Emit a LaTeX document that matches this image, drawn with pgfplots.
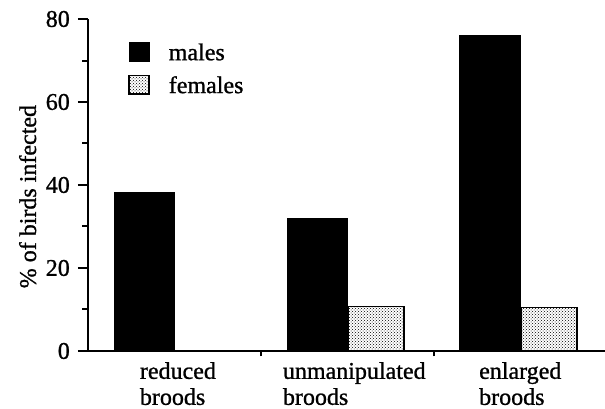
\documentclass[border=0pt]{standalone}
\usepackage{fontspec}
\setmainfont{Liberation Serif}[FakeBold=1.0]
\usepackage{pgfplots}
\pgfplotsset{compat=1.18}
\usetikzlibrary{patterns}
\begin{document}
\fontsize{24}{26}\selectfont
\begin{tikzpicture}
\begin{axis}[
  name=ax,
  scale only axis,
  clip=false,
  width=517pt, height=332pt,
  xmin=-0.5, xmax=2.49, ymin=0, ymax=80,
  axis x line*=bottom, axis y line*=left,
  axis line style={-, line width=2pt, black},
  xtick pos=bottom, ytick pos=left,
  /pgf/number format/assume math mode=true,
  every tick label/.append style={font=\fontsize{24}{26}\selectfont},
  tick align=outside,
  major tick length=5.5pt,
  tick style={black, line width=2pt},
  ytick={10,30,50,70},
  yticklabels={},
  extra y ticks={0,20,40,60,80},
  extra y tick style={major tick length=10pt},
  xtick={0.5,1.5},
  xticklabels={},
  extra x ticks={0.02,1.04,2.0},
  extra x tick labels={reduced\\broods, unmanipulated\\broods, enlarged\\broods},
  extra x tick style={major tick length=0pt},
  xticklabel style={align=left, anchor=north, yshift=-3pt},
  ylabel={\% of birds infected},
  ylabel style={at={(axis description cs:-0.1006,0.465)}, anchor=base, font=\fontsize{24}{26}\selectfont},
  legend style={at={(axis description cs:0.0774,0.9307)}, anchor=north west, draw=none, fill=none,
    inner sep=0pt, nodes={inner sep=0pt, anchor=base west}, column sep=19pt, row sep=11pt,
    font=\fontsize{24}{26}\selectfont},
  legend cell align=left,
  legend image code/.code={\draw[#1] (0pt,-1pt) rectangle (20pt,17.5pt);},
]
\addplot[ybar, bar shift=0pt, bar width=0.35, fill=black, draw=black, line width=1pt]
  coordinates {(-0.174,38.2) (0.826,31.9) (1.826,76.1)};
\addlegendentry{males}
\addplot[ybar, bar shift=0pt, bar width=0.322, pattern=crosshatch dots, draw=black, line width=1.6pt]
  coordinates {(0.168,0) (1.168,10.7) (2.168,10.5)};
\addlegendentry{females}
\pgfplotsinvokeforeach{0,20,40,60,80}{\draw[line width=2pt, black] (axis cs:-0.5,#1) -- ++(-10pt,0pt);}
\pgfplotsinvokeforeach{10,30,50,70}{\draw[line width=2pt, black] (axis cs:-0.5,#1) -- ++(-6pt,0pt);}
\end{axis}
\pgfresetboundingbox
\path (ax.south west) ++(-88pt,-58pt) rectangle ++(605pt,409pt);
\end{tikzpicture}
\end{document}
